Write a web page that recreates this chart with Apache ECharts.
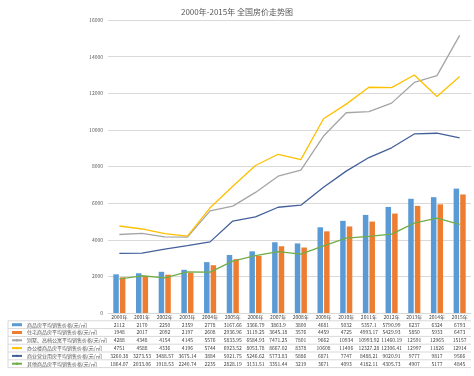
<!DOCTYPE html>
<html><head><meta charset="utf-8">
<script src="https://cdn.jsdelivr.net/npm/echarts@6/dist/echarts.min.js"></script>
<style>html,body{margin:0;padding:0;background:#fff}#c{width:474px;height:376px}</style>
</head><body><div id="c"></div>
<script>
const years = ['2000年','2001年','2002年','2003年','2004年','2005年','2006年','2007年','2008年','2009年','2010年','2011年','2012年','2013年','2014年','2015年'];
const names = ['商品房平均销售价格(元/㎡)','住宅商品房平均销售价格(元/㎡)','别墅、高档公寓平均销售价格(元/㎡)','办公楼商品房平均销售价格(元/㎡)','商业营业用房平均销售价格(元/㎡)','其他商品房平均销售价格(元/㎡)'];
const allHouse = [2112,2170,2250,2359,2778,3167.66,3366.79,3863.9,3800,4681,5032,5357.1,5790.99,6237,6324,6793];
const residential = [1948,2017,2092,2197,2608,2936.96,3119.25,3645.18,3576,4459,4725,4993.17,5429.93,5850,5933,6473];
const villa = [4288,4348,4154,4145,5576,5833.95,6584.93,7471.25,7801,9662,10934,10993.92,11460.19,12591,12965,15157];
const office = [4751,4588,4336,4196,5744,6923.52,8053.78,8667.02,8378,10608,11406,12327.28,12306.41,12997,11826,12914];
const commercial = [3260.38,3273.53,3488.57,3675.14,3884,5021.75,5246.62,5773.83,5886,6871,7747,8488.21,9020.91,9777,9817,9566];
const other = [1864.07,2033.06,1918.53,2240.74,2235,2828.19,3131.51,3351.44,3219,3671,4093,4182.11,4305.73,4907,5177,4845];
const yTicks = [0,2000,4000,6000,8000,10000,12000,14000,16000];
const rows = [allHouse, residential, villa, office, commercial, other];
const colors = ['#5B9BD5','#ED7D31','#A5A5A5','#FFC000','#44609A','#70AD47'];

const FONT = '"Noto Sans CJK SC", "Noto Sans", sans-serif';
const ROW_H = 7.8;
const GRID = {left:108, right:3, top:20, bottom:63};
const H = 376, W = 474;
const axisY = H - GRID.bottom;

const hLines = [];
for (let k = 1; k <= 7; k++) {
  hLines.push({type:'line', silent:true, shape:{x1:8, y1:axisY + k*ROW_H, x2:W - GRID.right, y2:axisY + k*ROW_H}, style:{stroke:'#D9D9D9', lineWidth:1}});
}
hLines.push({type:'line', silent:true, shape:{x1:8, y1:axisY + ROW_H, x2:8, y2:axisY + 7*ROW_H}, style:{stroke:'#D9D9D9', lineWidth:1}});

const chart = echarts.init(document.getElementById('c'), null, {renderer:'canvas'});
chart.setOption({
  backgroundColor:'#fff',
  animation:false,
  textStyle:{fontFamily:FONT},
  title:{text:'2000年-2015年 全国房价走势图', left:'center', top:3, textStyle:{fontSize:8, fontWeight:'normal', color:'#595959', fontFamily:FONT}},
  grid:GRID,
  legend:{
    orient:'vertical', left:11, top:axisY + ROW_H, itemGap:0, itemWidth:10, itemHeight:3, padding:0,
    textStyle:{fontSize:5, color:'#595959', lineHeight:ROW_H, height:ROW_H, fontFamily:FONT},
    data:names.map((n,i)=>({name:n, icon: i<2 ? 'rect' : undefined}))
  },
  xAxis:{
    type:'category', data:years,
    axisLine:{lineStyle:{color:'#D9D9D9'}},
    axisTick:{length:7*ROW_H, lineStyle:{color:'#D9D9D9'}},
    axisLabel:{interval:0, margin:0, fontSize:5, lineHeight:ROW_H, color:'#404040', fontFamily:FONT,
      formatter:(v, i) => [v].concat(rows.map(r => String(r[i]))).join('\n')}
  },
  yAxis:{
    type:'value', min:yTicks[0], max:yTicks[yTicks.length-1], interval:yTicks[1]-yTicks[0],
    axisLabel:{fontSize:5, color:'#595959', margin:5, formatter:v => String(v)},
    splitLine:{lineStyle:{color:'#D9D9D9'}},
    axisLine:{show:false}, axisTick:{show:false}
  },
  graphic:hLines,
  series:[
    {name:names[0], type:'bar', data:allHouse, barWidth:5.5, barGap:'20%', itemStyle:{color:colors[0]}},
    {name:names[1], type:'bar', data:residential, barWidth:5.5, barGap:'20%', itemStyle:{color:colors[1]}},
    {name:names[2], type:'line', data:villa, symbol:'none', z:5, lineStyle:{color:colors[2], width:1.3}, itemStyle:{color:colors[2]}},
    {name:names[3], type:'line', data:office, symbol:'none', z:5, lineStyle:{color:colors[3], width:1.3}, itemStyle:{color:colors[3]}},
    {name:names[4], type:'line', data:commercial, symbol:'none', z:5, lineStyle:{color:colors[4], width:1.3}, itemStyle:{color:colors[4]}},
    {name:names[5], type:'line', data:other, symbol:'none', z:5, lineStyle:{color:colors[5], width:1.3}, itemStyle:{color:colors[5]}}
  ]
});
</script></body></html>
